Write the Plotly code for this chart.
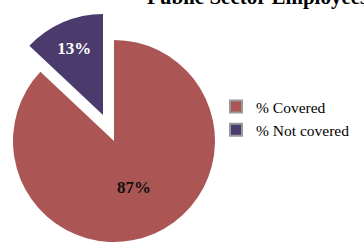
import plotly.graph_objects as go

labels = ["% Covered", "% Not covered"]
values = [87, 13]
colors = ["#AB5555", "#4B3B6C"]
text_colors = ["#111111", "#FFFFFF"]
title_text = "Public Sector Employees"

W, H = 364, 244
R = 101                     # pie radius in px
center_main = (114, 141)    # px, from top-left
pull_offset = (-11, -26)    # px shift of the exploded slice


def domain_for(cx, cy):
    return dict(
        x=[(cx - R) / W, (cx + R) / W],
        y=[(H - (cy + R)) / H, (H - (cy - R)) / H],
    )


fig = go.Figure()
for i in range(len(labels)):
    cx, cy = center_main
    if i == 1:
        cx += pull_offset[0]
        cy += pull_offset[1]
    fig.add_trace(go.Pie(
        labels=labels,
        values=values,
        sort=False,
        direction="clockwise",
        rotation=0,
        marker=dict(colors=[colors[j] if j == i else "rgba(0,0,0,0)" for j in range(len(labels))],
                    line=dict(width=0)),
        texttemplate=["<b>%{percent:.0%}</b>" if j == i else "" for j in range(len(labels))],
        textposition="inside",
        insidetextorientation="horizontal",
        textfont=dict(family="Liberation Serif", size=17, color=text_colors[i]),
        hoverinfo="skip",
        showlegend=False,
        domain=domain_for(cx, cy),
    ))

for lab, col in zip(labels, colors):
    fig.add_trace(go.Scatter(
        x=[None], y=[None], mode="markers", name=lab,
        marker=dict(symbol="square", size=8, color=col, line=dict(width=0.7, color="#999999")),
    ))

fig.add_annotation(
    text="<b>" + title_text + "</b>", xref="paper", yref="paper",
    x=145 / W, y=1 - 11 / H, xanchor="left", yanchor="bottom",
    showarrow=False, font=dict(family="Liberation Serif", size=21, color="#000000"),
)

fig.update_layout(
    width=W, height=H,
    margin=dict(l=0, r=0, t=0, b=0),
    paper_bgcolor="white", plot_bgcolor="white",
    xaxis=dict(visible=False), yaxis=dict(visible=False),
    legend=dict(x=216 / W, y=1 - 90 / H, xanchor="left", yanchor="top",
                font=dict(family="Liberation Serif", size=15.5, color="#000000"),
                itemsizing="constant", tracegroupgap=0, bgcolor="rgba(0,0,0,0)"),
    showlegend=True,
)

fig.write_html("out.html", config={"displayModeBar": False},
               post_script="document.body.style.margin='0';")
